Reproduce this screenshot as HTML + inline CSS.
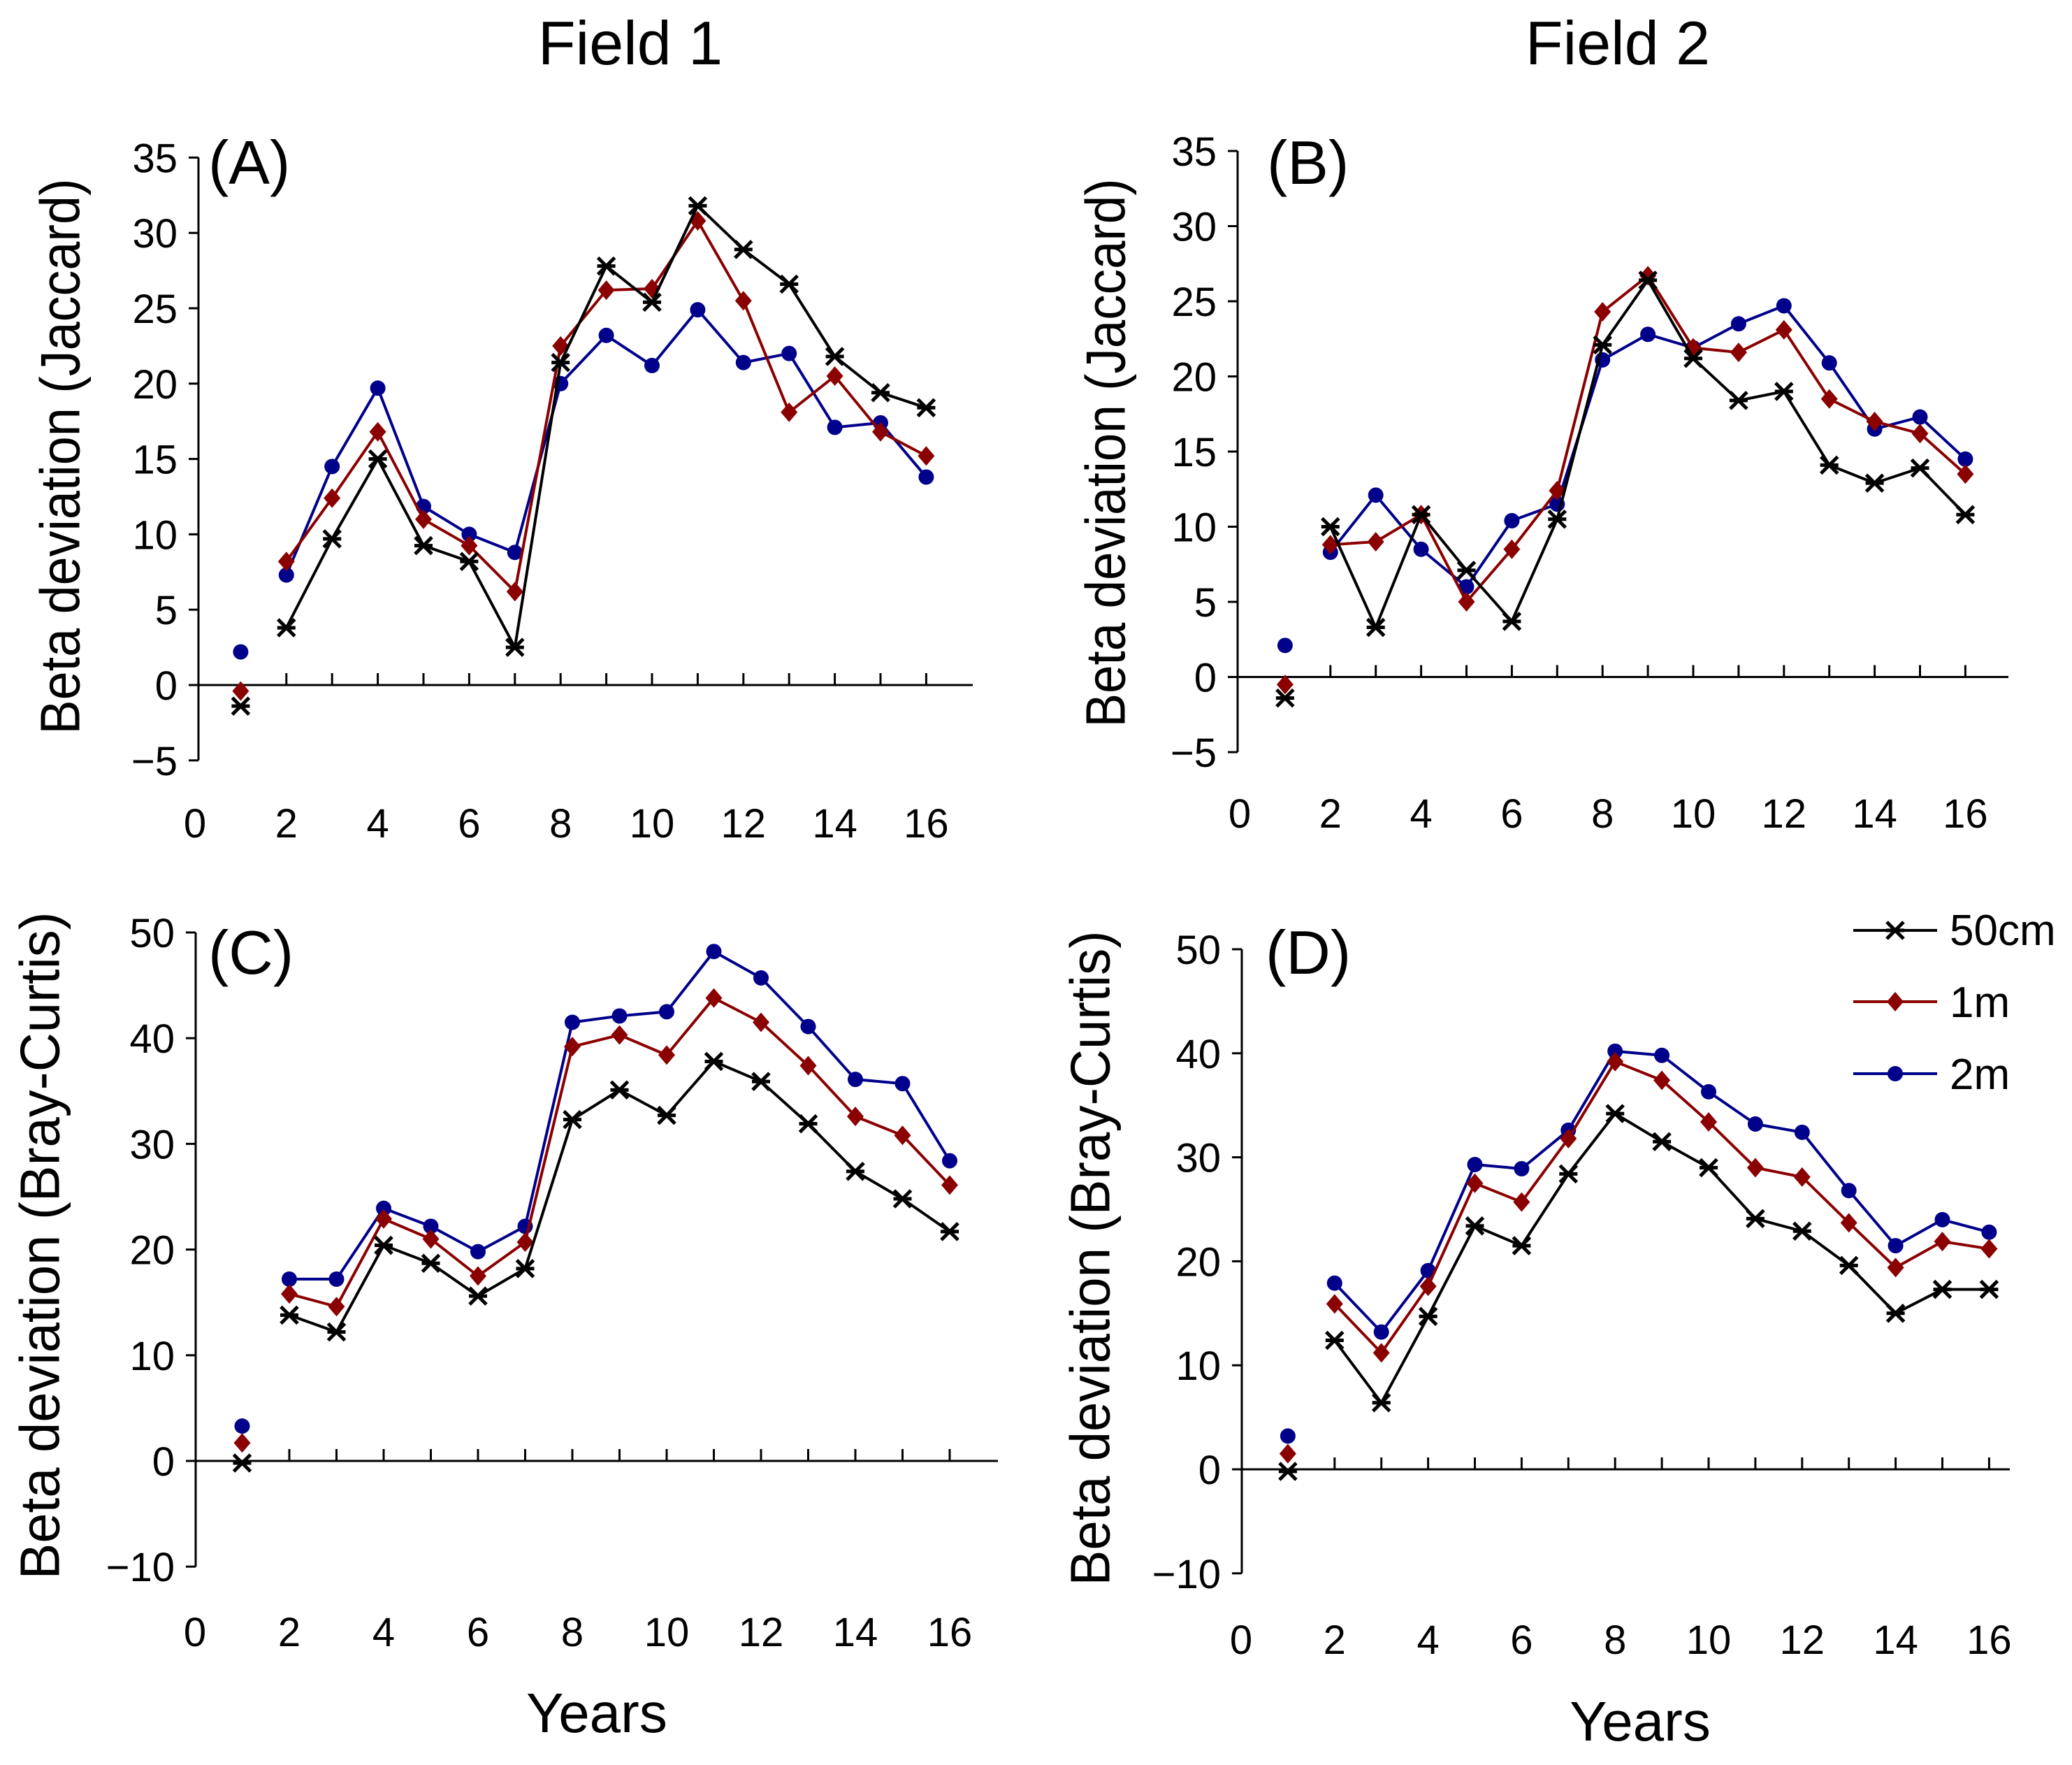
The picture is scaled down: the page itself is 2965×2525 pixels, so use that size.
<!DOCTYPE html>
<html><head><meta charset="utf-8"><style>
html,body{margin:0;padding:0;background:#fff}
svg{display:block;font-family:"Liberation Sans",Arial,sans-serif}
</style></head><body>
<svg id="fig" width="2965" height="2525" viewBox="0 0 2965 2525" xmlns="http://www.w3.org/2000/svg">
<text x="902" y="92" font-size="88" text-anchor="middle">Field 1</text>
<text x="2315" y="92" font-size="88" text-anchor="middle">Field 2</text>
<text x="854" y="2478" font-size="80" text-anchor="middle">Years</text>
<text x="2347" y="2490" font-size="80" text-anchor="middle">Years</text>
<g>
<line x1="2652" y1="1331" x2="2772" y2="1331" stroke="#000" stroke-width="4"/>
<line x1="2652" y1="1433" x2="2772" y2="1433" stroke="#8b0000" stroke-width="4"/>
<line x1="2652" y1="1536" x2="2772" y2="1536" stroke="#00008b" stroke-width="4"/>
<g id="legmarks"></g>
<text x="2790" y="1352" font-size="62">50cm</text>
<text x="2790" y="1455" font-size="62">1m</text>
<text x="2790" y="1558" font-size="62">2m</text>
</g>
</svg>
<script>
const years = [1,2,3,4,5,6,7,8,9,10,11,12,13,14,15,16];
const xTicks = [0,2,4,6,8,10,12,14,16];
const aBlack = [-1.4,3.8,9.7,15.0,9.25,8.2,2.5,21.4,27.8,25.4,31.8,28.9,26.6,21.8,19.4,18.4];
const aRed = [-0.4,8.2,12.4,16.8,11.0,9.25,6.2,22.5,26.2,26.3,30.8,25.5,18.1,20.5,16.8,15.2];
const aBlue = [2.2,7.3,14.5,19.7,11.85,10.0,8.8,20.0,23.2,21.2,24.9,21.4,22.0,17.1,17.4,13.8];
const bBlack = [-1.4,10.0,3.3,10.8,7.1,3.7,10.5,22.1,26.4,21.2,18.4,19.0,14.1,12.9,13.9,10.8];
const bRed = [-0.5,8.8,9.0,10.8,5.0,8.5,12.4,24.3,26.7,21.9,21.6,23.1,18.5,17.0,16.2,13.5];
const bBlue = [2.1,8.3,12.1,8.5,6.0,10.4,11.5,21.1,22.8,21.9,23.5,24.7,20.9,16.5,17.3,14.5];
const cBlack = [-0.2,13.8,12.2,20.4,18.7,15.6,18.2,32.3,35.1,32.7,37.8,35.9,31.9,27.4,24.8,21.7];
const cRed = [1.7,15.8,14.6,22.9,21.0,17.5,20.7,39.2,40.3,38.4,43.8,41.5,37.4,32.6,30.8,26.1];
const cBlue = [3.3,17.2,17.2,23.9,22.2,19.8,22.2,41.5,42.1,42.5,48.2,45.7,41.1,36.1,35.7,28.4];
const dBlack = [-0.2,12.4,6.4,14.7,23.4,21.5,28.4,34.2,31.5,29.0,24.1,22.9,19.6,15.0,17.3,17.3];
const dRed = [1.5,15.9,11.2,17.6,27.5,25.7,31.8,39.2,37.4,33.4,29.0,28.1,23.7,19.4,21.9,21.2];
const dBlue = [3.2,17.9,13.2,19.1,29.3,28.9,32.6,40.2,39.8,36.3,33.2,32.4,26.8,21.5,24.0,22.8];
const jaccardTicks = [-5,0,5,10,15,20,25,30,35];
const brayTicks = [-10,0,10,20,30,40,50];

const NS="http://www.w3.org/2000/svg";
const svg=document.getElementById('fig');
function mk(tag,attrs,parent){const e=document.createElementNS(NS,tag);for(const k in attrs)e.setAttribute(k,attrs[k]);(parent||svg).appendChild(e);return e;}
const BLACK="#000",RED="#8b0000",BLUE="#00008b";

function marker(g,type,x,y,col){
  let m;
  if(type==='x'){
    m=mk('path',{d:`M${x-12},${y-12}L${x+12},${y+12}M${x-12},${y+12}L${x+12},${y-12}M${x-13},${y}L${x+13},${y}`,stroke:col,'stroke-width':5,fill:'none'},g);
  }else if(type==='d'){
    m=mk('path',{d:`M${x},${y-14}L${x+12},${y}L${x},${y+14}L${x-12},${y}Z`,fill:col},g);
  }else{
    m=mk('circle',{cx:x,cy:y,r:11,fill:col},g);
  }
  return m;
}

function panel(p){
  const g=mk('g',{});
  
  
  const X=v=>p.x0+p.ux*v, Y=v=>p.yz-p.uy*v;
  const ticks=p.yticks;
  const ymin=ticks[0], ymax=ticks[ticks.length-1];
  const yAx=mk('line',{x1:p.ax,y1:Y(ymax),x2:p.ax,y2:Y(ymin),stroke:'#000','stroke-width':3},g);
  
  
  const xAx=mk('line',{x1:p.ax,y1:Y(0),x2:p.end,y2:Y(0),stroke:'#000','stroke-width':3},g);
  
  
  ticks.forEach(t=>{
    mk('line',{x1:p.ax-14,y1:Y(t),x2:p.ax,y2:Y(t),stroke:'#000','stroke-width':3},g);
    const tl=mk('text',{x:p.ax-30,y:Y(t)+21,'font-size':58,'text-anchor':'end'},g);
    tl.textContent=t<0?'\u2212'+(-t):String(t);
    
    
  });
  for(let v=2;v<=16;v++){
    mk('line',{x1:X(v),y1:Y(0),x2:X(v),y2:Y(0)-17,stroke:'#000','stroke-width':3},g);
  }
  xTicks.forEach(t=>{
    const tl=mk('text',{x:X(t),y:p.xly,'font-size':58,'text-anchor':'middle'},g);
    tl.textContent=String(t);
    
    
  });
  const yl=mk('text',{x:0,y:0,'font-size':80,'text-anchor':'middle','dominant-baseline':'central',transform:`translate(${p.ylx},${p.yly}) rotate(-90)`,textLength:p.yll,lengthAdjust:'spacingAndGlyphs'},g);
  yl.textContent=p.ytitle;
  
  
  const pl=mk('text',{x:p.plx,y:p.ply,'font-size':88},g);
  pl.textContent='('+p.id.toUpperCase()+')';
  
  
  p.series.forEach(s=>{
    const sg=mk('g',{},g);
    
    
    const pts=years.slice(1).map((yr,i)=>X(yr)+','+Y(s.vals[i+1])).join(' ');
    const ln=mk('polyline',{points:pts,fill:'none',stroke:s.col,'stroke-width':4,'stroke-linejoin':'round'},sg);
    
    
    years.forEach((yr,i)=>{
      const m=marker(sg,s.type,X(yr),Y(s.vals[i]),s.col);
      
      
    });
  });
}
const ser=(bk,rd,bl)=>[{name:'2m',vals:bl,col:BLUE,type:'c'},{name:'1m',vals:rd,col:RED,type:'d'},{name:'50cm',vals:bk,col:BLACK,type:'x'}];
panel({id:'a',x0:279,ux:65.4,yz:980,uy:21.56,ax:284,end:1392,xly:1198,yticks:jaccardTicks,ytitle:'Beta deviation (Jaccard)',ylx:86,yly:653,yll:795,plx:298,ply:263,series:ser(aBlack,aRed,aBlue)});
panel({id:'b',x0:1774,ux:64.9,yz:968.5,uy:21.5,ax:1771,end:2874,xly:1184,yticks:jaccardTicks,ytitle:'Beta deviation (Jaccard)',ylx:1582,yly:648,yll:785,plx:1813,ply:263,series:ser(bBlack,bRed,bBlue)});
panel({id:'c',x0:279,ux:67.5,yz:2090,uy:15.12,ax:280,end:1428,xly:2355,yticks:brayTicks,ytitle:'Beta deviation (Bray-Curtis)',ylx:57,yly:1782,yll:955,plx:298,ply:1393,series:ser(cBlack,cRed,cBlue)});
panel({id:'d',x0:1776,ux:66.9,yz:2102,uy:14.88,ax:1777,end:2876,xly:2366,yticks:brayTicks,ytitle:'Beta deviation (Bray-Curtis)',ylx:1560,yly:1800,yll:937,plx:1811,ply:1393,series:ser(dBlack,dRed,dBlue)});
const lg=document.getElementById('legmarks');
marker(lg,'x',2712,1331,BLACK);
marker(lg,'d',2712,1433,RED);
marker(lg,'c',2712,1536,BLUE);
</script>
</body></html>
